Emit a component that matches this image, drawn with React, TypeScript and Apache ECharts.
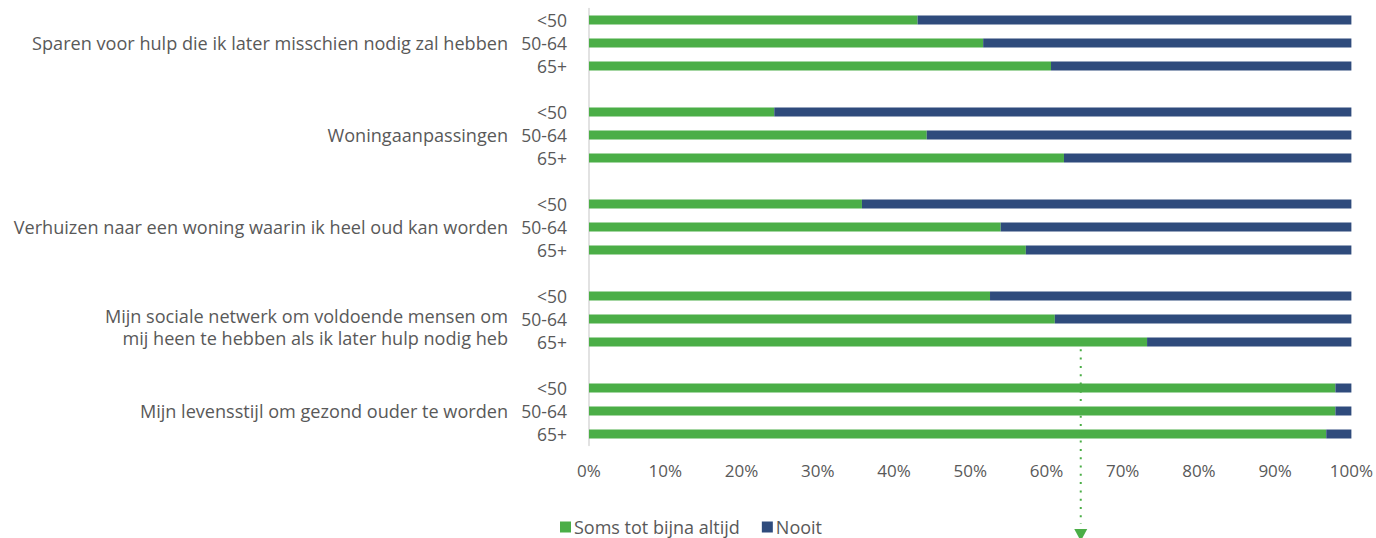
import React, { useEffect, useRef } from "react";
import * as echarts from "echarts";

const groups = [
  "Sparen voor hulp die ik later misschien nodig zal hebben",
  "Woningaanpassingen",
  "Verhuizen naar een woning waarin ik heel oud kan worden",
  "Mijn sociale netwerk om voldoende mensen om\nmij heen te hebben als ik later hulp nodig heb",
  "Mijn levensstijl om gezond ouder te worden",
];
const ages = ["<50", "50-64", "65+"];
// "Soms tot bijna altijd" per group, per age (<50, 50-64, 65+)
const somsValues = [
  [43.1, 51.7, 60.6],
  [24.3, 44.3, 62.3],
  [35.8, 54.0, 57.3],
  [52.6, 61.1, 73.2],
  [97.9, 97.9, 96.7],
];
const nooitValues = somsValues.map((g) => g.map((v) => +(100 - v).toFixed(1)));
const xTicks = [0, 10, 20, 30, 40, 50, 60, 70, 80, 90, 100];
const seriesNames = ["Soms tot bijna altijd", "Nooit"];
const arrowValue = 64.5;

const GREEN = "#4BAE47";
const NAVY = "#2F4B7C";
const TEXT = "#595959";
const FONT = "'Open Sans', sans-serif";

export default function App() {
  const ref = useRef<HTMLDivElement>(null);
  useEffect(() => {
    document.body.style.margin = "0";
    if (!ref.current) return;
    const chart = echarts.init(ref.current, undefined, { renderer: "svg" });

    const cats: string[] = [];
    const soms: (number | string)[] = [];
    const nooit: (number | string)[] = [];
    groups.forEach((_, gi) => {
      ages.forEach((_, ai) => {
        cats.push(`${gi}-${ai}`);
        soms.push(somsValues[gi][ai]);
        nooit.push(nooitValues[gi][ai]);
      });
      if (gi < groups.length - 1) {
        cats.push(`${gi}-gap`);
        soms.push("-");
        nooit.push("-");
      }
    });

    const ageFmt = (k: string) => {
      const [, a] = k.split("-");
      return a === "gap" ? "" : ages[+a];
    };
    const groupFmt = (k: string) => {
      const [g, a] = k.split("-");
      if (a !== "1") return "";
      const name = groups[+g];
      if (name.includes("\n")) {
        const [l1, l2] = name.split("\n");
        return `{sp| }\n{t|${l1}}\n{t|${l2}}`;
      }
      return `{t|${name}}`;
    };

    chart.setOption({
      animation: false,
      textStyle: { fontFamily: FONT },
      grid: { left: 589, right: 21, top: 8.5, bottom: 92.5, containLabel: false },
      legend: {
        bottom: 2,
        left: 560,
        padding: 0,
        itemWidth: 11,
        itemHeight: 11,
        itemGap: 22,
        icon: "rect",
        textStyle: { color: TEXT, fontSize: 18, lineHeight: 18, fontFamily: FONT, padding: [0, 0, 0, -2] },
        data: seriesNames,
      },
      xAxis: {
        type: "value",
        min: 0,
        max: 100,
        interval: 10,
        axisLine: { show: false },
        axisTick: { show: false },
        splitLine: { show: false },
        axisLabel: {
          color: TEXT,
          fontSize: 17,
          fontFamily: FONT,
          margin: 16,
          formatter: (v: number) => (xTicks.includes(v) ? `${v}%` : ""),
        },
      },
      yAxis: [
        {
          type: "category",
          inverse: true,
          data: cats,
          axisLine: { show: true, lineStyle: { color: "#D9D9D9", width: 1.5 } },
          axisTick: { show: false },
          axisLabel: {
            interval: 0,
            color: TEXT,
            fontSize: 17.5,
            fontFamily: FONT,
            margin: 22,
            formatter: ageFmt,
          },
        },
        {
          type: "category",
          inverse: true,
          position: "left",
          offset: 81,
          data: cats,
          axisLine: { show: false },
          axisTick: { show: false },
          axisLabel: {
            interval: 0,
            margin: 0,
            formatter: groupFmt,
            rich: {
              t: { color: TEXT, fontSize: 18.1, fontFamily: FONT, lineHeight: 22, align: "right" },
              sp: { fontSize: 10, lineHeight: 16 },
            },
          },
        },
      ],
      series: [
        {
          name: seriesNames[0],
          type: "bar",
          stack: "total",
          barWidth: 9,
          itemStyle: { color: GREEN },
          data: soms,
        },
        {
          name: seriesNames[1],
          type: "bar",
          stack: "total",
          barWidth: 9,
          itemStyle: { color: NAVY },
          data: nooit,
        },
      ],
    });

    const x = chart.convertToPixel({ xAxisIndex: 0 }, arrowValue) as number;
    const y0 = chart.convertToPixel({ yAxisIndex: 0 }, "3-2") as number;
    chart.setOption({
      graphic: [
        {
          type: "line",
          shape: { x1: x, y1: y0 - 1, x2: x, y2: 524 },
          style: { stroke: GREEN, lineWidth: 2, lineDash: [2, 6.3] },
          z: 10,
        },
        {
          type: "polygon",
          shape: { points: [[x - 6.5, 529], [x + 6.5, 529], [x, 541]] },
          style: { fill: GREEN },
          z: 10,
        },
      ],
    });

    return () => chart.dispose();
  }, []);
  return <div ref={ref} style={{ width: 1376, height: 538 }} />;
}
